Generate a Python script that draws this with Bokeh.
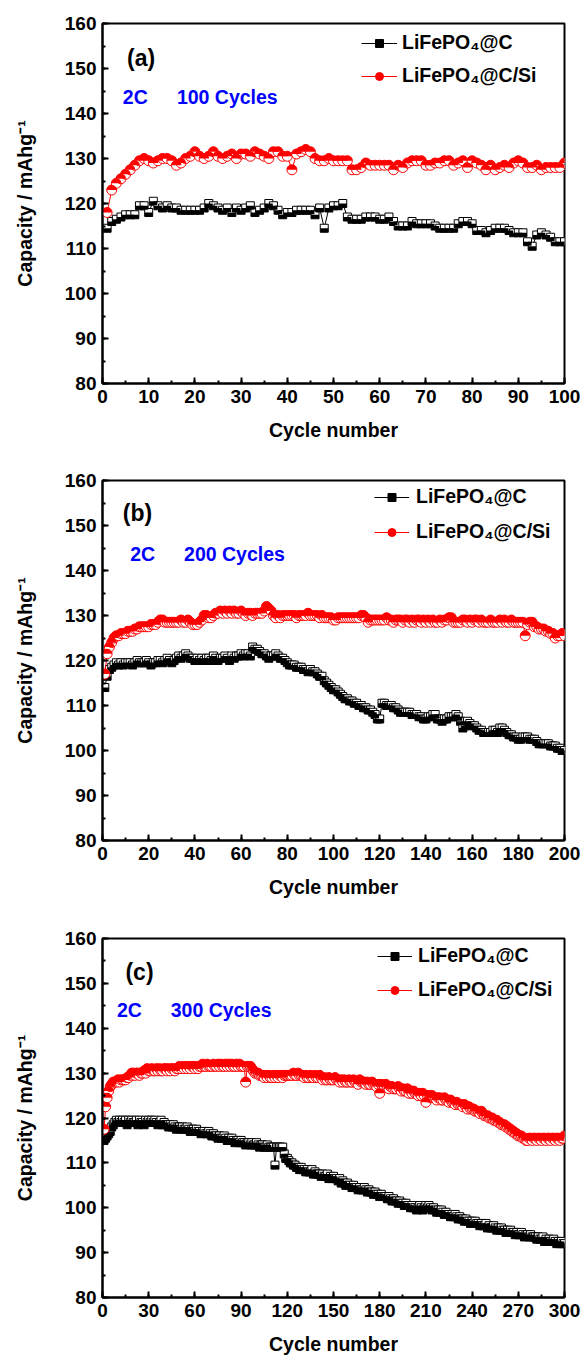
import numpy as np
from bokeh.plotting import figure
from bokeh.layouts import column
from bokeh.models import Range1d, Legend, LegendItem, Label, SingleIntervalTicker
from bokeh.embed import file_html
from bokeh.resources import INLINE

# ---------------- data ----------------
series_names = ["LiFePO₄@C", "LiFePO₄@C/Si"]
rate_text = "2C"
cycle_texts = ["100 Cycles", "200 Cycles", "300 Cycles"]
panel_tags = ["(a)", "(b)", "(c)"]
x_max = [100, 200, 300]
x_step = [10, 20, 30]
y_ticks_min, y_ticks_max = 80, 160

a_c = [114.5, 116, 116.5, 117, 117.5, 117.5, 117.5, 119.5, 119.5, 118,
       120.5, 119.5, 119, 119.5, 119, 119, 118.5, 118.5, 118.5, 118.5,
       118.5, 119, 120, 119.5, 119, 118.5, 119, 118, 119, 118.5,
       119, 119.5, 118, 118.5, 119, 120, 119.5, 118.5, 117.5, 118,
       118, 118.5, 118.5, 118.5, 118.5, 117.5, 119, 114.5, 119, 119.5,
       119.5, 120, 117, 116.5, 116.5, 116.5, 117, 117, 117, 116.5,
       116.5, 117, 116, 115, 115, 115, 116, 115.5, 115.5, 115.5,
       115.5, 115, 114.5, 114.5, 114.5, 114.5, 115.5, 116, 116, 115.5,
       114, 114, 113.5, 114, 114.5, 114.5, 114.5, 114, 113.5, 113.5,
       113.5, 111.5, 110.5, 113, 113.5, 113, 112.5, 111.5, 111.5, 111.5]

a_si = [118, 123, 124.5, 125.5, 126.5, 127.5, 128.5, 129.5, 130, 129.5,
        129, 129.5, 130, 130, 129.5, 128.5, 129, 130, 130.5, 131.5,
        130.5, 130, 130.5, 131.5, 130.5, 130, 130.5, 131, 130, 131,
        131, 130.5, 131.5, 131, 130.5, 130, 131.5, 131.5, 130.5, 130.5,
        127.5, 131, 131.5, 132, 131.5, 130, 129.5, 129.5, 130, 129.5,
        129.5, 129.5, 129.5, 127.5, 127.5, 128, 129, 128.5, 128.5, 128.5,
        128.5, 128.5, 127.5, 128.5, 128, 129, 129.5, 129.5, 129.5, 128.5,
        128.5, 129, 129, 129.5, 129.5, 128.5, 129, 129.5, 128, 129.5,
        129, 128.5, 127.5, 128.5, 127.5, 128, 128.5, 128, 129, 129.5,
        129, 128, 128, 128.5, 127.5, 128, 128, 128, 128, 129]

b_c = [114, 116.5, 118, 118.5, 119, 119.5, 119, 119.5, 119, 119.5,
       119.5, 119.5, 119, 119.5, 120, 119.5, 119.5, 119.5, 120, 119.5,
       119, 119.5, 119.5, 120, 120, 119.5, 120, 120.5, 120, 119.5,
       120, 120.5, 121, 120.5, 121, 121.5, 121, 120.5, 120.5, 120,
       120.5, 120, 120.5, 120, 120.5, 120.5, 120, 121, 120.5, 120,
       120.5, 120.5, 121, 120.5, 120, 121, 120.5, 121, 121, 121.5,
       121, 121.5, 121.5, 121, 123, 122.5, 122.5, 122, 121.5, 121.5,
       121, 120.5, 121, 121, 121.5, 121, 120.5, 120.5, 120, 119.5,
       119, 119, 119, 118.5, 118.5, 118.5, 118, 118, 117.5, 118,
       117.5, 117.5, 117, 116.5, 116.5, 115.5, 115, 114.5, 114, 113.5,
       113.5, 113, 112.5, 112, 111.5, 111.5, 111, 111, 110.5, 110.5,
       110, 110, 109.5, 109.5, 109, 109, 108.5, 108, 107, 107,
       110.5, 110.5, 110, 110, 110, 109.5, 109.5, 109, 108.5, 108.5,
       108.5, 108.5, 108.5, 108, 108, 108, 107.5, 107.5, 107, 107,
       107.5, 107.5, 108, 108, 107, 107, 106.5, 107, 107, 107.5,
       107.5, 107.5, 108, 107.5, 106.5, 105, 105.5, 106.5, 106, 105.5,
       105.5, 105, 104.5, 104.5, 104, 104, 104, 104, 104.5, 104.5,
       104, 105, 105, 104.5, 104, 103.5, 103.5, 103, 103, 102.5,
       102.5, 103, 103, 103, 102.5, 102.5, 102.5, 102, 101.5, 101.5,
       101.5, 101.5, 101.5, 101, 101, 101, 100.5, 100.5, 100, 100]

b_si = [117, 121.5, 123, 124, 125, 125.5, 125.5, 126, 126, 126,
        126.5, 126.5, 126.5, 127, 127, 127.5, 127.5, 127.5, 127.5, 127.5,
        128, 128, 128, 128.5, 129, 129, 128.5, 128.5, 128.5, 128.5,
        128.5, 128.5, 128.5, 129, 128.5, 128.5, 129, 128.5, 128, 128,
        128, 128.5, 129, 130, 130, 129.5, 129.5, 130, 130.5, 130.5,
        131, 130.5, 131, 130.5, 131, 130.5, 131, 130.5, 130.5, 131,
        130.5, 130, 130.5, 130.5, 130, 130.5, 130.5, 130.5, 130.5, 131,
        132, 131.5, 131, 130, 129.5, 130, 129.5, 130, 130, 130,
        130, 130, 130, 129.5, 130, 130, 130, 130, 130.5, 130,
        130, 130, 130, 129.5, 130, 129.5, 129.5, 129.5, 129.5, 129,
        129, 129.5, 129.5, 129.5, 129.5, 129.5, 129.5, 129.5, 129.5, 129.5,
        129.5, 130, 130, 129.5, 128.5, 129, 129, 129, 129, 129,
        129, 129, 129.5, 129, 129, 128.5, 129, 129, 129, 128.5,
        129, 129, 128.5, 129, 128.5, 129, 129, 128.5, 129, 128.5,
        129, 128.5, 129, 128.5, 128.5, 129, 128.5, 129, 129, 129.5,
        129.5, 128.5, 128.5, 128.5, 128.5, 129, 129, 128.5, 129, 128.5,
        129, 129, 128.5, 129, 128.5, 128.5, 128.5, 129, 128.5, 128.5,
        128.5, 129, 128.5, 129, 128.5, 128.5, 129, 128.5, 128.5, 128.5,
        128.5, 128.5, 125.5, 128, 128.5, 128.5, 127.5, 127.5, 127, 127,
        127, 126.5, 126.5, 126, 126, 125, 125.5, 125.5, 126, 125.5]

c_c = [115, 115.5, 116, 116.5, 117, 118, 118.5, 119, 119.5, 119,
       119.5, 119, 119.5, 119, 119.5, 118.5, 119.5, 119, 119.5, 119,
       119, 119.5, 118.5, 119.5, 119, 119, 118.5, 119.5, 119, 119.5,
       119, 119.5, 119, 119.5, 119, 118.5, 119, 119.5, 118.5, 119,
       118.5, 118.5, 118, 118.5, 118, 118.5, 118, 117.5, 118, 118,
       117.5, 118, 117.5, 117.5, 118, 117.5, 117, 117.5, 117.5, 117,
       117.5, 117, 117, 116.5, 117, 117, 116.5, 116.5, 117, 116.5,
       116, 116.5, 116, 116, 115.5, 116, 115.5, 115.5, 116, 115.5,
       115, 115.5, 115, 115.5, 115, 114.5, 115, 115, 114.5, 115,
       114.5, 114.5, 114, 114.5, 114.5, 114, 114.5, 114, 114, 114.5,
       114, 113.5, 114, 114, 113.5, 113.5, 114, 113.5, 113.5, 113.5,
       113.5, 109.5, 113.5, 113.5, 113.5, 113.5, 113.5, 112, 111, 111,
       110.5, 110, 110, 109.5, 109.5, 109, 109, 108.5, 109, 108.5,
       108.5, 108, 108.5, 108, 108, 108.5, 107.5, 108, 107.5, 107.5,
       107.5, 107, 107.5, 107, 107, 107.5, 106.5, 107, 106.5, 107,
       106.5, 106.5, 106, 106.5, 105.5, 106, 105.5, 105, 105.5, 105,
       105, 104.5, 105, 104.5, 104.5, 104, 104.5, 104, 104, 104.5,
       104, 103.5, 104, 103.5, 103.5, 103, 103.5, 103, 103, 102.5,
       103, 102.5, 102.5, 102.5, 102, 102.5, 102, 101.5, 102, 101.5,
       101.5, 101, 101.5, 101, 101, 100.5, 101, 100.5, 100.5, 100,
       100.5, 100, 100, 99.5, 100, 100.5, 100, 99.5, 100, 100.5,
       100, 100.5, 100, 99.5, 100, 99.5, 99, 99.5, 99, 99.5,
       99, 98.5, 99, 98.5, 98.5, 98, 98.5, 98, 98.5, 98,
       97.5, 98, 97.5, 97.5, 97, 97.5, 97, 97, 96.5, 97,
       96.5, 97, 96.5, 96.5, 96, 96.5, 96, 96, 96.5, 95.5,
       96, 95.5, 95.5, 96, 95.5, 95, 95.5, 95, 95.5, 95,
       95, 94.5, 95, 94.5, 95, 94.5, 94.5, 94, 94.5, 94,
       94, 94.5, 94, 93.5, 94, 94, 93.5, 94, 93.5, 93.5,
       93.5, 93, 93.5, 93, 93, 93.5, 92.5, 93, 92.5, 93,
       92.5, 92.5, 93, 92.5, 92, 92.5, 92, 92.5, 92, 92]

c_si = [117.5, 122.5, 124.5, 126, 127, 127.5, 128, 128, 128, 128.5,
        128, 128.5, 128.5, 128.5, 128.5, 129, 129, 129.5, 130, 130,
        129.5, 130, 130, 129.5, 130, 130, 130.5, 130, 131, 130.5,
        130.5, 131, 130.5, 130.5, 131, 130.5, 131, 130.5, 130.5, 131,
        131, 130.5, 131, 130.5, 131, 131, 130.5, 131, 131, 131.5,
        131, 131.5, 131, 131.5, 131, 131.5, 131, 131.5, 131.5, 131,
        131.5, 131, 131.5, 131.5, 132, 131.5, 131.5, 132, 131.5, 131.5,
        131.5, 132, 131.5, 131.5, 132, 131.5, 132, 131.5, 131.5, 132,
        131.5, 132, 131.5, 132, 131.5, 131.5, 132, 131.5, 132, 131.5,
        131.5, 131.5, 128, 131.5, 131.5, 131.5, 131, 130.5, 130, 130,
        130, 129.5, 129.5, 129.5, 129, 129.5, 129, 129.5, 129, 129,
        129.5, 129, 129.5, 129, 129.5, 129.5, 129, 129.5, 129.5, 129.5,
        129.5, 129.5, 129.5, 130, 129.5, 129.5, 130, 129.5, 129.5, 129.5,
        129, 129.5, 129, 129, 129.5, 129, 129, 129.5, 129, 129,
        129.5, 129, 128.5, 129, 128.5, 128.5, 129, 128.5, 128.5, 128.5,
        129, 128.5, 128.5, 128, 128.5, 128, 128.5, 128, 128, 128.5,
        128, 128, 128.5, 128, 128, 127.5, 128.5, 128, 128, 128,
        127.5, 128, 127.5, 127.5, 128, 127.5, 127.5, 127, 127.5, 125.5,
        127.5, 127, 127, 127.5, 127, 126.5, 127, 127, 126.5, 126.5,
        126.5, 127, 126.5, 126, 126.5, 126, 126, 126.5, 125.5, 126,
        125.5, 126, 125.5, 125.5, 125, 125.5, 125, 125.5, 125, 123.5,
        125, 125, 124.5, 125, 124.5, 124.5, 124, 124.5, 124.5, 124,
        124, 124.5, 124, 124, 123.5, 124, 123.5, 123.5, 123, 123.5,
        123, 123, 123, 122.5, 123, 122.5, 122, 122.5, 122, 122,
        122, 121.5, 121.5, 121.5, 121, 121.5, 121, 120.5, 120.5, 120.5,
        120, 120, 120, 119.5, 119.5, 119.5, 119, 119, 118.5, 118.5,
        118.5, 118, 118, 117.5, 117.5, 117, 117, 116.5, 116.5, 116,
        116, 116, 115.5, 115.5, 115, 115, 115.5, 115.5, 115, 115.5,
        115.5, 115, 115.5, 115.5, 115, 115.5, 115.5, 115, 115.5, 115.5,
        115, 115.5, 115.5, 115, 115.5, 115.5, 115, 115.5, 115.5, 116]

# ---------------- styling / layout ----------------
FONT = "Liberation Sans"
FIG_W = 584
BORDER_L, BORDER_R = 102, 20
FRAME_W = FIG_W - BORDER_L - BORDER_R
SQ = 8      # square marker size (px)
CI = 10     # circle marker size (px)
BLUE = "#0000FF"
RED = "#FF0000"


def make_panel(idx, c_vals, si_vals, top_b, frame_h, bot_b,
               tag_pos, rate_pos, cyc_pos, leg_loc, leg_spacing, glyph_w, leg_standoff):
    xmax = x_max[idx]
    p = figure(width=FIG_W, height=top_b + frame_h + bot_b,
               output_backend="svg", toolbar_location=None,
               x_range=Range1d(0, xmax), y_range=Range1d(y_ticks_min, y_ticks_max),
               min_border_left=BORDER_L, min_border_right=BORDER_R,
               min_border_top=top_b, min_border_bottom=bot_b)
    p.background_fill_color = "white"
    p.border_fill_color = "white"
    p.xgrid.visible = False
    p.ygrid.visible = False
    p.outline_line_color = "black"
    p.outline_line_width = 2

    p.xaxis.ticker = SingleIntervalTicker(interval=x_step[idx], num_minor_ticks=2)
    p.yaxis.ticker = SingleIntervalTicker(interval=10, num_minor_ticks=2)
    for ax in (p.xaxis[0], p.yaxis[0]):
        ax.axis_line_width = 2
        ax.axis_line_color = "black"
        ax.major_tick_in = 6
        ax.major_tick_out = 0
        ax.minor_tick_in = 3
        ax.minor_tick_out = 0
        ax.major_tick_line_width = 2
        ax.minor_tick_line_width = 2
        ax.major_label_text_font = FONT
        ax.major_label_text_font_style = "bold"
        ax.major_label_text_font_size = "19px"
        ax.major_label_text_color = "black"
        ax.major_label_standoff = 6
        ax.axis_label_text_font = FONT
        ax.axis_label_text_font_style = "bold"
        ax.axis_label_text_font_size = "19.5px"
        ax.axis_label_text_color = "black"
    p.xaxis.axis_label = "Cycle number"
    p.xaxis.axis_label_standoff = 13
    p.yaxis.axis_label = "Capacity / mAhg⁻¹"
    p.yaxis.axis_label_standoff = 26

    n = len(c_vals)
    x = np.arange(1, n + 1)
    c = np.asarray(c_vals, dtype=float)
    s = np.asarray(si_vals, dtype=float)

    # pixel -> data conversions for half-filled square markers
    hw = (SQ / 2.0) * xmax / FRAME_W
    hh = (SQ / 2.0) * (y_ticks_max - y_ticks_min) / frame_h

    # LiFePO4@C : black line, square, bottom half filled
    l_c = p.line(x, c, line_color="black", line_width=1)
    p.scatter(x, c, marker="square", size=SQ, fill_color="white",
              line_color="black", line_width=1)
    p.quad(left=x - hw, right=x + hw, bottom=c - hh, top=c,
           fill_color="black", line_color=None)

    # LiFePO4@C/Si : red line, circle, top half filled
    l_s = p.line(x, s, line_color=RED, line_width=1)
    p.scatter(x, s, marker="circle", size=CI, fill_color="white",
              line_color=RED, line_width=1)
    p.wedge(x, s, radius=CI / 2.0, radius_units="screen",
            start_angle=0, end_angle=np.pi, fill_color=RED, line_color=None)

    # legend-only markers (hidden on the plot, drawn in the legend)
    m_c = p.scatter(x, c, marker="square", size=SQ, fill_color="black",
                    line_color="black", line_width=1, visible=False)
    m_s = p.scatter(x, s, marker="circle", size=CI + 1, fill_color=RED,
                    line_color=RED, line_width=1, visible=False)

    legend = Legend(items=[LegendItem(label=series_names[0], renderers=[l_c, m_c]),
                           LegendItem(label=series_names[1], renderers=[l_s, m_s])],
                    location=leg_loc)
    legend.border_line_color = None
    legend.background_fill_alpha = 0
    legend.label_text_font = FONT
    legend.label_text_font_style = "bold"
    legend.label_text_font_size = "19.5px"
    legend.label_text_color = "black"
    legend.glyph_width = glyph_w
    legend.glyph_height = 20
    legend.label_height = 20
    legend.label_standoff = leg_standoff
    legend.spacing = leg_spacing
    legend.padding = 0
    legend.margin = 0
    p.add_layout(legend)

    p.add_layout(Label(x=tag_pos[0], y=tag_pos[1], text=panel_tags[idx],
                       text_font=FONT, text_font_style="bold", text_font_size="23px",
                       text_color="black", text_baseline="middle"))
    p.add_layout(Label(x=rate_pos[0], y=rate_pos[1], text=rate_text,
                       text_font=FONT, text_font_style="bold", text_font_size="19.5px",
                       text_color=BLUE, text_baseline="middle"))
    p.add_layout(Label(x=cyc_pos[0], y=cyc_pos[1], text=cycle_texts[idx],
                       text_font=FONT, text_font_style="bold", text_font_size="19.5px",
                       text_color=BLUE, text_baseline="middle"))
    return p


pa = make_panel(0, a_c, a_si, 23, 360, 72,
                (5.3, 152.4), (4.4, 143.7), (16.1, 143.7), (259, 296), 10, 36, 5)
pb = make_panel(1, b_c, b_si, 25, 360, 70,
                (8.8, 152.7), (12.0, 143.6), (35.3, 143.6), (272, 297), 12, 35, 7)
pc = make_panel(2, c_c, c_si, 28, 359, 66,
                (14.9, 152.6), (9.4, 144.0), (44.3, 144.0), (275, 296), 11, 35, 6)

layout = column(pa, pb, pc, spacing=0)
open("out.html", "w").write(file_html(layout, INLINE))
